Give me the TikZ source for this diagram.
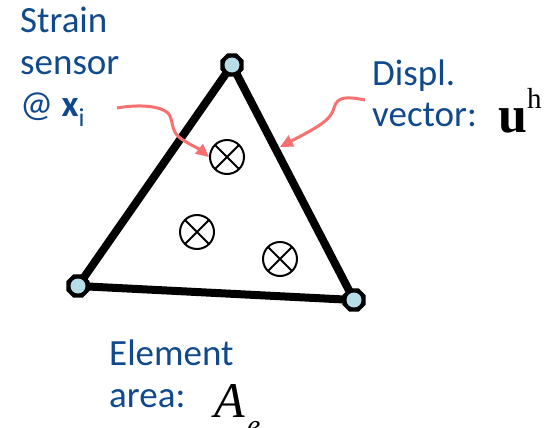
\documentclass[tikz,border=0pt]{standalone}
\usepackage{fontspec}
\setmainfont{Carlito}
\newfontfamily\tms{Liberation Serif}
\usetikzlibrary{shapes.geometric,arrows.meta,backgrounds}
\definecolor{txtblue}{RGB}{16,74,140}
\definecolor{vtxfill}{HTML}{B7DEE8}
\definecolor{arrred}{RGB}{248,112,112}
\tikzset{
  lbl/.style={anchor=base west,inner sep=0pt,text=txtblue,font=\fontsize{37}{42}\selectfont},
  vtx/.style={regular polygon,regular polygon sides=8,fill=black,minimum size=25pt,inner sep=0pt,
    path picture={\fill[vtxfill] (path picture bounding box.center) circle (7.5pt);}},
  sensor/.style={circle,draw=black,line width=2pt,minimum size=34pt,inner sep=0pt,
    path picture={\draw[line width=2pt] (path picture bounding box.north west) -- (path picture bounding box.south east)
      (path picture bounding box.north east) -- (path picture bounding box.south west);}},
  edge/.style={line width=8pt},
  callout/.style={draw=arrred,line width=3pt,-{Triangle[length=13pt,width=12pt]}}
}
\begin{document}
\begin{tikzpicture}[x=1pt,y=-1pt]
\useasboundingbox (0,0) rectangle (555,428);
% vertices
\node[vtx] (vT) at (232,65) {};
\node[vtx] (vL) at (78,286) {};
\node[vtx] (vR) at (354,300) {};
\begin{scope}[on background layer]
\draw[edge] (vT.center) -- (vL.center);
\draw[edge] (vL.center) -- (vR.center);
\draw[edge] (vR.center) -- (vT.center);
\end{scope}
% sensors
\node[sensor] (s1) at (227,157) {};
\node[sensor] (s2) at (197,232) {};
\node[sensor] (s3) at (280,259) {};
% labels
\node[lbl] (strain) at (20,33) {Strain};
\node[lbl] (sensor) at (20,75) {sensor};
\node[lbl] (at) at (20,117) {@ \textbf{x}\textsubscript{i}};
\node[lbl] (displ) at (372,86) {Displ.};
\node[lbl] (vector) at (372,127) {vector:};
\node[anchor=base west,inner sep=0pt] (u) at (498,132) {\tms\fontsize{52}{52}\selectfont\bfseries u};
\node[anchor=base west,inner sep=0pt] (h) at (527,109) {\tms\fontsize{29}{29}\selectfont h};
\node[lbl] (element) at (109,365) {Element};
\node[lbl] (area) at (109,407) {area:};
\node[anchor=base west,inner sep=0pt] (A) at (214,417) {\tms\fontsize{50}{50}\selectfont\itshape A};
\node[anchor=base west,inner sep=0pt] (e) at (247,435) {\tms\fontsize{30}{30}\selectfont\itshape e};
% callouts
\coordinate (c1) at (117,108);
\coordinate (c2) at (365,100);
\coordinate (edgept) at (280,147);
\draw[callout] (c1) .. controls (140,104) and (160,106) .. (168,113)
  .. controls (174,120) and (170,130) .. (180,138)
  .. controls (190,145) and (198,148) .. (s1.west);
\draw[callout] (c2) .. controls (345,96) and (337,97) .. (334,108)
  .. controls (331,120) and (318,127) .. (edgept);
\end{tikzpicture}
\end{document}
